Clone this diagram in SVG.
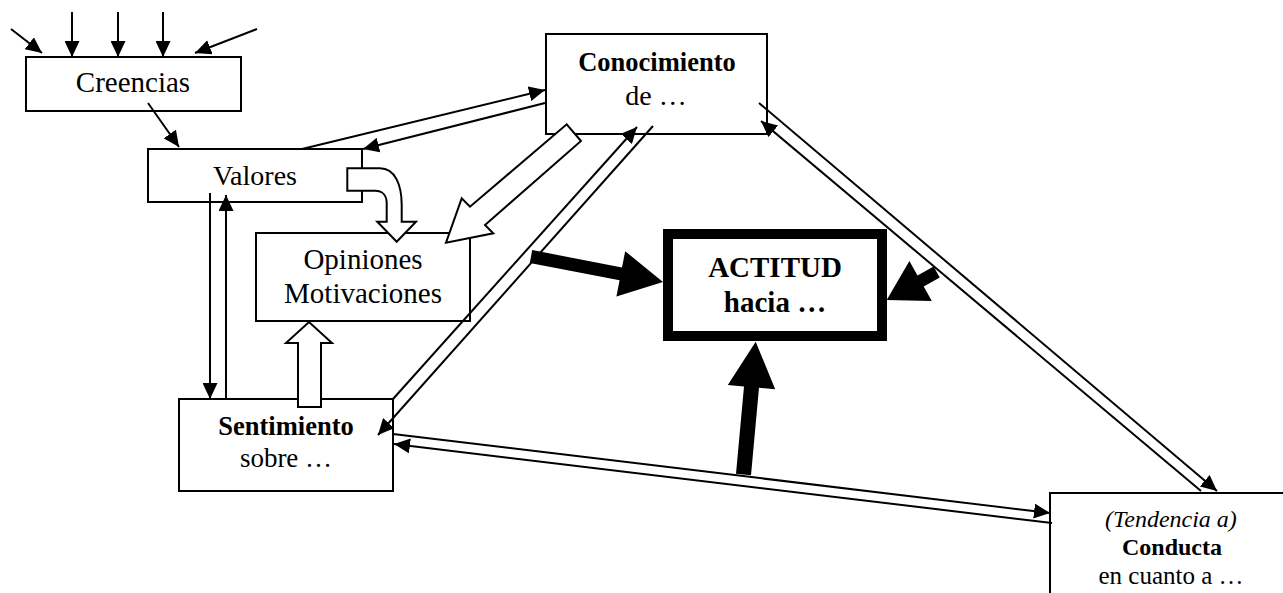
<svg xmlns="http://www.w3.org/2000/svg" width="1283" height="593" viewBox="0 0 1283 593">
<defs>
<marker id="ah" markerUnits="userSpaceOnUse" markerWidth="16" markerHeight="15" refX="16" refY="7.5" orient="auto">
<path d="M0,0 L16,7.5 L0,15 Z" fill="#000"/>
</marker>
<style>
.box{fill:#fff;stroke:#000;stroke-width:2}
.t{font-family:"Liberation Serif","Times New Roman",serif;fill:#000;text-anchor:middle}
.b{font-weight:bold}
.ln{stroke:#000;stroke-width:2;fill:none}
.arr{stroke:#000;stroke-width:2;fill:none;marker-end:url(#ah)}
.hollow{fill:#fff;stroke:#000;stroke-width:2;stroke-linejoin:miter}
.solid{fill:#000;stroke:none}
</style>
</defs>
<rect width="1283" height="593" fill="#fff"/>

<g id="creencias">
<rect class="box" x="26" y="57" width="215" height="54"/>
<text class="t" x="133" y="92" font-size="29">Creencias</text>
</g>
<g id="valores">
<rect class="box" x="148" y="149" width="214" height="53"/>
<text class="t" x="255" y="185" font-size="28">Valores</text>
</g>
<g id="opiniones">
<rect class="box" x="256" y="233" width="214" height="88"/>
<text class="t" x="363" y="269" font-size="29">Opiniones</text>
<text class="t" x="363" y="303" font-size="29">Motivaciones</text>
</g>
<g id="conocimiento">
<rect class="box" x="546" y="34" width="221" height="100"/>
<text class="t b" x="657" y="71" font-size="26.5">Conocimiento</text>
<text class="t" x="656" y="105" font-size="28">de …</text>
</g>
<g id="actitud">
<rect x="668" y="234" width="214" height="102" fill="#fff" stroke="#000" stroke-width="10"/>
<text class="t b" x="775" y="277" font-size="29">ACTITUD</text>
<text class="t b" x="775" y="312" font-size="29">hacia …</text>
</g>
<g id="sentimiento">
<rect class="box" x="179" y="399" width="214" height="92"/>
<text class="t b" x="286" y="435" font-size="26.5">Sentimiento</text>
<text class="t" x="286" y="467" font-size="27">sobre …</text>
</g>
<g id="conducta">
<rect class="box" x="1050" y="493" width="300" height="200"/>
<text class="t" x="1171" y="527" font-size="24" font-style="italic">(Tendencia a)</text>
<text class="t b" x="1172" y="555" font-size="24">Conducta</text>
<text class="t" x="1171" y="584" font-size="25">en cuanto a …</text>
</g>

<g id="connectors">
<!-- inputs to Creencias -->
<line class="arr" x1="11" y1="29" x2="42" y2="53"/>
<line class="arr" x1="72" y1="12" x2="72" y2="57"/>
<line class="arr" x1="118" y1="12" x2="118" y2="57"/>
<line class="arr" x1="163" y1="12" x2="163" y2="57"/>
<line class="arr" x1="257" y1="29" x2="195" y2="53"/>
<!-- Creencias to Valores -->
<line class="arr" x1="148" y1="103" x2="179" y2="147"/>
<!-- Valores <-> Conocimiento -->
<line class="arr" x1="302" y1="149" x2="545" y2="90"/>
<line class="arr" x1="545" y1="103" x2="363" y2="149"/>
<!-- Valores <-> Sentimiento -->
<line class="arr" x1="210" y1="193" x2="210" y2="399"/>
<line class="arr" x1="226" y1="399" x2="226" y2="195"/>
<!-- Sentimiento <-> Conocimiento -->
<line class="arr" x1="393" y1="399" x2="637" y2="127"/>
<line class="arr" x1="653" y1="126" x2="378" y2="435"/>
<!-- Conocimiento <-> Conducta -->
<line class="arr" x1="759" y1="103" x2="1217" y2="491"/>
<line class="arr" x1="1201" y1="491" x2="761" y2="121"/>
<!-- Sentimiento <-> Conducta -->
<line class="arr" x1="393" y1="434" x2="1050" y2="513"/>
<line class="arr" x1="1052" y1="523" x2="394" y2="444"/>
<!-- hollow arrows -->
<path class="hollow" d="M347.3,168.3 L380,168.3 C395,168.3 401.7,185 401.7,205 L401.7,221.7 L416,221.7 L396.7,241.7 L377.3,221.7 L386.7,221.7 L386.7,203 C386.7,195 382,190.7 375,190.7 L347.3,190.7 Z"/>
<polygon class="hollow" points="566.7,124.3 581,141 485,225 493.3,233.3 446,242.7 461.7,198.3 470,206.7"/>
<polygon class="hollow" points="298,407 298,343 286,343 309,322 332,343 321,343 321,407"/>
<!-- solid arrows to ACTITUD -->
<polygon class="solid" points="532.2,250.1 622,267.4 625.2,251.2 663,282 616.4,296.4 619.6,280.2 529.8,262.9"/>
<polygon class="solid" points="933.6,266.5 917.5,275.5 909.4,260.9 886.7,300 931.8,301.1 923.7,286.5 939.8,277.5"/>
<polygon class="solid" points="736,473.8 744,386.4 727.8,384.9 755.7,341.7 775.2,389.3 759,387.8 751,475.2"/>
</g>
</svg>
